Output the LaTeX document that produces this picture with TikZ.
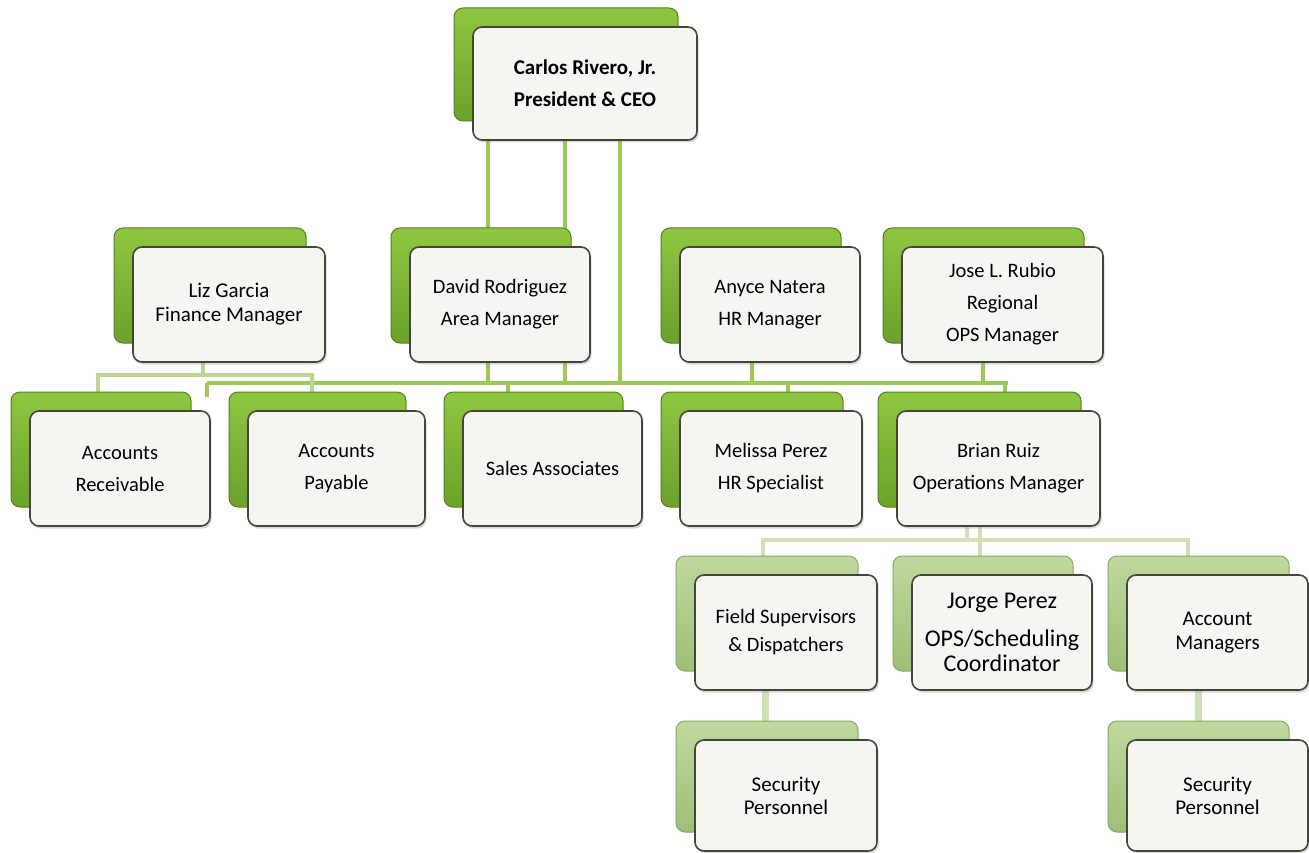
\documentclass[tikz,border=0pt]{standalone}
\usepackage{fontspec}
\setmainfont{Carlito}
\usetikzlibrary{backgrounds}
\usetikzlibrary{shadows}

\definecolor{cardline}{HTML}{45463A}
\definecolor{cardfill}{HTML}{F5F6F1}
\definecolor{leafhi}{HTML}{8FC640}
\definecolor{leaflo}{HTML}{6AA22B}
\definecolor{leafedge}{HTML}{537F1E}
\definecolor{palehi}{HTML}{BFD89E}
\definecolor{palelo}{HTML}{9FBF78}
\definecolor{paleedge}{HTML}{89A862}
\definecolor{linkgreen}{HTML}{9CCB55}
\definecolor{linklight}{HTML}{B9D88F}
\definecolor{linkpale}{HTML}{CFE2B6}

\begin{document}
\begin{tikzpicture}[x=1pt,y=-1pt,
  box/.style={rectangle,rounded corners=9pt,draw=cardline,line width=1.6pt,fill=cardfill,
    inner sep=0pt,align=center,font=\fontsize{20.5}{32}\selectfont},
  card/.style={box,general shadow={shadow xshift=-19pt,shadow yshift=19pt,draw=leafedge,
    line width=1pt,top color=leafhi,bottom color=leaflo},
    drop shadow={opacity=0.3,shadow xshift=1.5pt,shadow yshift=-2.5pt}},
  palecard/.style={box,general shadow={shadow xshift=-19pt,shadow yshift=19pt,draw=paleedge,
    line width=1pt,top color=palehi,bottom color=palelo},
    drop shadow={opacity=0.3,shadow xshift=1.5pt,shadow yshift=-2.5pt}},
  link/.style={draw=linkgreen,line width=4pt},
  palelink/.style={draw=linkpale,line width=4pt}]
\useasboundingbox (0,0) rectangle (1309,853);

% top
\node[card,minimum width=224pt,minimum height=113pt,font=\bfseries\fontsize{21}{32}\selectfont] (ceo) at (585,83.5) {Carlos Rivero, Jr.\\President \& CEO};

% managers
\node[card,minimum width=192pt,minimum height=115pt,font=\fontsize{21}{24}\selectfont] (liz) at (229,304.5) {Liz Garcia\\Finance Manager};
\node[card,minimum width=180pt,minimum height=115pt] (david) at (500,304.5) {David Rodriguez\\Area Manager};
\node[card,minimum width=180pt,minimum height=115pt] (anyce) at (770,304.5) {Anyce Natera\\HR Manager};
\node[card,minimum width=201pt,minimum height=115pt] (jose) at (1002.5,304.5) {Jose L. Rubio\\Regional\\OPS Manager};

% staff
\node[card,minimum width=180pt,minimum height=115pt] (ar) at (120,468.5) {Accounts\\Receivable};
\node[card,minimum width=177pt,minimum height=115pt] (ap) at (336.5,468.5) {Accounts\\Payable};
\node[card,minimum width=179pt,minimum height=115pt] (sales) at (552.5,468.5) {Sales Associates};
\node[card,minimum width=182pt,minimum height=115pt] (melissa) at (771,468.5) {Melissa Perez\\HR Specialist};
\node[card,minimum width=203pt,minimum height=115pt] (brian) at (998.5,468.5) {Brian Ruiz\\Operations Manager};

% operations
\node[palecard,minimum width=182pt,minimum height=115pt,font=\fontsize{20.5}{28}\selectfont] (field) at (786,632.5) {Field Supervisors\\\& Dispatchers};
\node[palecard,minimum width=180pt,minimum height=115pt,font=\fontsize{24}{25}\selectfont] (jorge) at (1002,632.5) {Jorge Perez\\[13pt]OPS/Scheduling\\Coordinator};
\node[palecard,minimum width=181pt,minimum height=115pt,font=\fontsize{21}{24}\selectfont] (acctm) at (1217.5,632.5) {Account\\Managers};
\node[palecard,minimum width=182pt,minimum height=111pt,font=\fontsize{21}{23}\selectfont] (sec1) at (786,795.5) {Security\\Personnel};
\node[palecard,minimum width=181pt,minimum height=111pt,font=\fontsize{21}{23}\selectfont] (sec2) at (1217.5,795.5) {Security\\Personnel};

\begin{scope}[on background layer]
  \coordinate (bus) at (207,383);
  \coordinate (busend) at (1008,383);
  \coordinate (busstub) at (207,397);
  \coordinate (lizbus) at (98,375);
  \coordinate (lizbusend) at (312,375);
  \coordinate (opsbus) at (763,540);
  \coordinate (opsbusend) at (1188,540);
  \coordinate (ceo-a) at ([xshift=-97pt]ceo.south);
  \coordinate (ceo-b) at ([xshift=-20pt]ceo.south);
  \coordinate (ceo-c) at ([xshift=35pt]ceo.south);
  \coordinate (liz-a) at ([xshift=-26pt]liz.south);
  \coordinate (anyce-a) at ([xshift=-18pt]anyce.south);
  \coordinate (jose-a) at ([xshift=-19.5pt]jose.south);
  \coordinate (sales-a) at ([xshift=-44.5pt]sales.north);
  \coordinate (melissa-a) at ([xshift=17pt]melissa.north);
  \coordinate (brian-a) at ([xshift=6.5pt]brian.north);
  \coordinate (brian-b) at ([xshift=-31.5pt]brian.south);
  \coordinate (brian-c) at ([xshift=-18.5pt]brian.south);
  \coordinate (field-a) at ([xshift=-21pt]field.south);
  \coordinate (acctm-a) at ([xshift=-19.5pt]acctm.south);

  % president to the staff line
  \draw[link] (ceo-a) -- (ceo-a |- bus);
  \draw[link] (ceo-b) -- (ceo-b |- bus);
  \draw[link] (ceo-c) -- (ceo-c |- bus);
  \draw[link] (bus) -- (busend);
  \draw[link] (bus) -- (busstub);
  \draw[link] (anyce-a) -- (anyce-a |- bus);
  \draw[link] (jose-a) -- (jose-a |- bus);
  \draw[link] (sales-a |- bus) -- (sales-a);
  \draw[link] (melissa-a |- bus) -- (melissa-a);
  \draw[link] (brian-a |- bus) -- (brian-a);
  % finance
  \draw[link,draw=linklight] (liz-a) -- (liz-a |- lizbus);
  \draw[link,draw=linklight] (lizbus |- ar.north) -- (lizbus) -- (lizbusend) -- (lizbusend |- ap.north);
  % operations
  \draw[palelink] (brian-b) -- (brian-b |- opsbus);
  \draw[palelink] (opsbus |- field.north) -- (opsbus) -- (opsbusend) -- (opsbusend |- acctm.north);
  \draw[palelink] (brian-c) -- (brian-c |- jorge.north);
  \draw[palelink,line width=7pt] (field-a) -- (field-a |- sec1.north);
  \draw[palelink,line width=7pt] (acctm-a) -- (acctm-a |- sec2.north);
\end{scope}
\end{tikzpicture}
\end{document}
